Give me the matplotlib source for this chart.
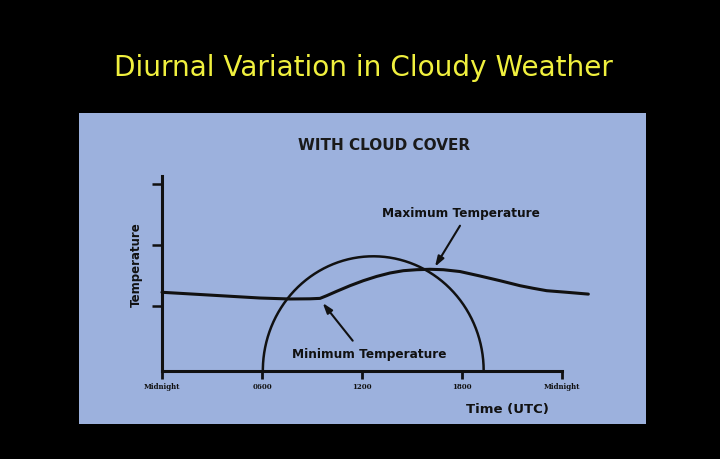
import numpy as np
import matplotlib
matplotlib.use("Agg")
import matplotlib.pyplot as plt
from matplotlib.patches import Rectangle

# ---- data ----
tick_hours = [0, 6, 12, 18, 24]
tick_labels = ["Midnight", "0600", "1200", "1800", "Midnight"]
y_ticks = [1, 2, 3]

temp_hours = [0, 5.88, 7.68, 8.88, 9.48, 9.88, 10.48, 11.28, 12.08, 12.88, 13.68, 14.48,
              15.28, 16.08, 16.88, 17.88, 19.08, 20.28, 21.48, 22.28, 23.08, 24.28, 25.58]
temp_values = [1.22, 1.126, 1.11, 1.113, 1.12, 1.164, 1.236, 1.328, 1.41, 1.48, 1.536, 1.574,
               1.59, 1.597, 1.59, 1.56, 1.487, 1.41, 1.328, 1.285, 1.246, 1.22, 1.19]

sun_rise = 6.05
sun_set = 19.3
sun_peak = 1.81
y_base = -0.066

title = "Diurnal Variation in Cloudy Weather"
subtitle = "WITH CLOUD COVER"

W, H = 720, 460
fig = plt.figure(figsize=(7.2, 4.6), dpi=100, facecolor="black")

def fx(px):
    return px / W

def fy(py):
    return 1 - py / H

# panel
panel = fig.add_axes([0, 0, 1, 1], facecolor="none")
panel.set_xlim(0, W)
panel.set_ylim(H, 0)
panel.axis("off")
panel.add_patch(Rectangle((79, 114), 567, 311, facecolor="#9CB1DD", edgecolor="none"))

fig.text(fx(363), fy(68), title, color="#F0F03E", fontsize=20.2, ha="center", va="center",
         family="DejaVu Sans")
fig.text(fx(384), fy(146), subtitle, color="#1a1a1a", fontsize=11, fontweight="bold",
         ha="center", va="center", family="DejaVu Sans")

# main axes: x 162..562 px, y: value 1 at 306.7px, 61 px per unit
x0, x1 = 162, 562
ybot_px, ytop_px = 371.7, 176.7
unit = 61.0
ylo = 1 - (ybot_px - 306.7) / unit
yhi = 1 + (306.7 - ytop_px) / unit
ax = fig.add_axes([fx(x0), fy(ybot_px), (x1 - x0) / W, (ybot_px - ytop_px) / H], facecolor="none")
ax.set_xlim(0, 24)
ax.set_ylim(ylo, yhi)
for s in ["top", "right"]:
    ax.spines[s].set_visible(False)
for s in ["left", "bottom"]:
    ax.spines[s].set_linewidth(2.2)
    ax.spines[s].set_color("#111111")

ax.set_xticks(tick_hours)
ax.set_xticklabels(tick_labels, fontsize=5, fontweight="bold", family="DejaVu Serif", color="#111111")
ax.set_yticks(y_ticks)
ax.set_yticklabels([])
ax.tick_params(axis="x", direction="out", length=6, width=2, color="#111111", pad=2)
ax.tick_params(axis="y", direction="out", length=7, width=1.8, color="#111111")

# temperature curve
ax.plot(temp_hours, temp_values, color="#111111", lw=2.2, clip_on=False,
        solid_capstyle="round", solid_joinstyle="round")

# sun semicircle
c = (sun_rise + sun_set) / 2
r = (sun_set - sun_rise) / 2
t = np.linspace(0, np.pi, 200)
ax.plot(c + r * np.cos(t), y_base + (sun_peak - y_base) * np.sin(t), color="#111111", lw=1.8,
        clip_on=False)

fig.text(fx(136), fy(265), "Temperature", rotation=90, fontsize=8.5, fontweight="bold",
         ha="center", va="center", color="#111111")
fig.text(fx(507), fy(410), "Time (UTC)", fontsize=9.5, fontweight="bold",
         ha="center", va="center", color="#111111")

# annotations (in panel pixel coords)
arrow_style = dict(arrowstyle="-|>,head_length=0.6,head_width=0.2", color="#111111",
                   lw=1.5, mutation_scale=10, shrinkA=0, shrinkB=0)
panel.annotate("", xy=(435, 267.7), xytext=(460, 226.7), arrowprops=arrow_style)
panel.text(461, 213.3, "Maximum Temperature", fontsize=8.7, fontweight="bold", ha="center",
           va="center", color="#111111")
panel.annotate("", xy=(322.7, 304), xytext=(352.7, 341.7), arrowprops=arrow_style)
panel.text(369.5, 354.3, "Minimum Temperature", fontsize=8.7, fontweight="bold", ha="center",
           va="center", color="#111111")

fig.savefig("out.png", dpi=100, facecolor="black")
